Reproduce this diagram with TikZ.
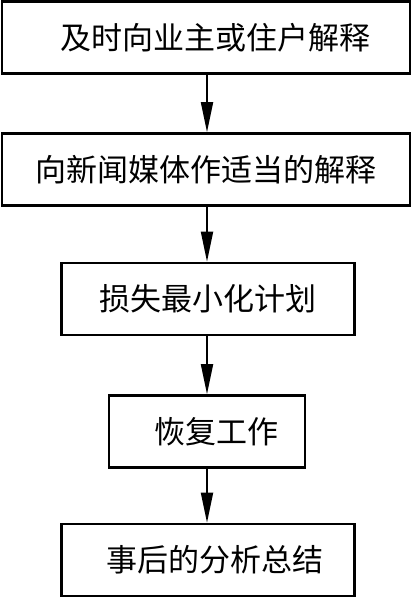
\documentclass[tikz,border=0pt]{standalone}
\usepackage{fontspec}
\newfontfamily\cjk{Noto Sans CJK SC}
\usepackage{tikz}
\usetikzlibrary{arrows.meta, positioning}

\begin{document}
\begin{tikzpicture}[x=1pt, y=-1pt, >={Triangle[length=30pt, width=12pt]}]

        % --- Styles ---
        \tikzset{
            stepBox/.style={rectangle, draw=black, line width=2.6pt, inner sep=0pt,
                font=\cjk\fontsize{31}{36}\selectfont, minimum height=72pt},
            wideBox/.style={stepBox, minimum width=408pt},
            midBox/.style={stepBox, minimum width=293pt},
            smallBox/.style={stepBox, minimum width=196pt},
            flowArrow/.style={->, line width=1.8pt}
        }

        \useasboundingbox (0,0) rectangle (413,599);

        % 1. Boxes
        \node[wideBox]  (explainOwner) at (206,37.5)  {\hspace*{18pt}及时向业主或住户解释};
        \node[wideBox]  (explainMedia) at (206,169.5) {向新闻媒体作适当的解释};
        \node[midBox]   (lossPlan)     at (208,299)   {损失最小化计划};
        \node[smallBox] (recovery)     at (207,431.5) {\hspace*{18pt}恢复工作};
        \node[midBox]   (summary)      at (208,560)   {\hspace*{14pt}事后的分析总结};

        % 2. Arrows
        \draw[flowArrow] (explainOwner.south -| recovery) -- (explainMedia.north -| recovery);
        \draw[flowArrow] (explainMedia.south -| recovery) -- (lossPlan.north -| recovery);
        \draw[flowArrow] (lossPlan.south -| recovery) -- (recovery.north);
        \draw[flowArrow] (recovery.south) -- (summary.north -| recovery);

    \end{tikzpicture}
\end{document}
